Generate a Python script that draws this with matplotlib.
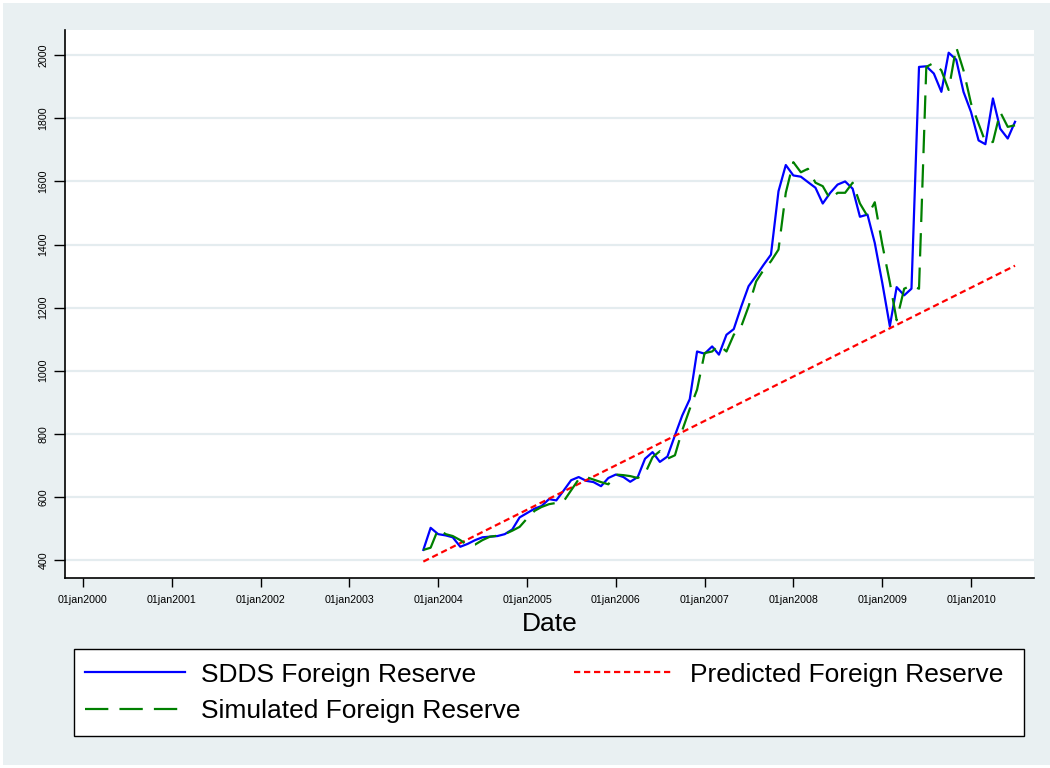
import numpy as np
import pandas as pd
import matplotlib
matplotlib.use("Agg")
import matplotlib.pyplot as plt
from matplotlib.patches import Rectangle

# monthly observations, Nov 2003 .. Jul 2010
months = pd.date_range("2003-11-01", "2010-07-01", freq="MS")

sdds = [432, 502,
        482, 478, 472, 442, 451, 463, 472, 474, 476, 482, 497, 535,
        549, 563, 571, 593, 589, 621, 653, 663, 651, 647, 634, 660,
        671, 663, 648, 663, 721, 742, 711, 728, 795, 858, 910, 1061,
        1054, 1077, 1051, 1114, 1132, 1204, 1268, 1301, 1336, 1368, 1569, 1652,
        1619, 1615, 1598, 1580, 1530, 1564, 1590, 1600, 1577, 1488, 1495, 1405,
        1278, 1141, 1265, 1239, 1260, 1963, 1965, 1942, 1884, 2008, 1986, 1884,
        1820, 1730, 1718, 1863, 1767, 1736, 1789]

simulated = [432, 439,
             498, 482, 476, 463, 447, 449, 463, 474, 477, 482, 493, 505,
             532, 556, 568, 577, 581, 587, 621, 656, 663, 655, 647, 640,
             671, 669, 666, 660, 674, 726, 745, 721, 732, 811, 879, 940,
             1056, 1061, 1082, 1061, 1114, 1141, 1204, 1283, 1320, 1347, 1384, 1564,
             1661, 1629, 1640, 1596, 1585, 1543, 1564, 1564, 1596, 1530, 1490, 1534,
             1400, 1280, 1160, 1260, 1270, 1260, 1963, 1976, 1952, 1890, 2026, 1952,
             1847, 1783, 1725, 1725, 1820, 1773, 1778]

# predicted trend line (straight), read at its two ends
pred_dates = pd.to_datetime(["2003-11-01", "2010-07-01"])
predicted = [395, 1333]

year_ticks = pd.to_datetime(["%d-01-01" % y for y in range(2000, 2011)])
year_labels = ["01jan2000", "01jan2001", "01jan2002", "01jan2003", "01jan2004",
               "01jan2005", "01jan2006", "01jan2007", "01jan2008", "01jan2009",
               "01jan2010"]
y_ticks = [400, 600, 800, 1000, 1200, 1400, 1600, 1800, 2000]

plt.rcParams["font.family"] = ["Liberation Sans", "DejaVu Sans"]

W, H = 1050, 768
bg = "#E9F0F2"

fig = plt.figure(figsize=(W / 100, H / 100), dpi=100)
fig.patch.set_facecolor("white")
fig.add_artist(Rectangle((3 / W, 3 / H), 1 - 3 / W, 1 - 6 / H,
                         transform=fig.transFigure, facecolor=bg,
                         edgecolor="none", zorder=-10))

ax = fig.add_axes([65 / W, 1 - 578 / H, (1034 - 65) / W, (578 - 30) / H])
ax.set_facecolor("white")

l1, = ax.plot(months, sdds, color="blue", lw=1.6,
              label="SDDS Foreign Reserve")
l2, = ax.plot(pred_dates, predicted, color="red", lw=1.6, dashes=(2.8, 1.7),
              label="Predicted Foreign Reserve")
l3, = ax.plot(months, simulated, color="#008000", lw=1.6, dashes=(10.5, 5),
              label="Simulated Foreign Reserve")

ax.set_xlim(pd.Timestamp("1999-10-19"), pd.Timestamp("2010-09-17"))
ax.set_ylim(343, 2080)

ax.set_xticks(year_ticks)
ax.set_xticklabels(year_labels, fontsize=7.7)
ax.set_yticks(y_ticks)
ax.set_yticklabels([str(v) for v in y_ticks], fontsize=7.7,
                   rotation=90, va="center")
ax.tick_params(axis="y", direction="out", length=8, width=1, pad=4)
ax.tick_params(axis="x", direction="out", length=6.5, width=1, pad=6)

for s in ["top", "right"]:
    ax.spines[s].set_visible(False)
for s in ["left", "bottom"]:
    ax.spines[s].set_linewidth(1.2)

ax.yaxis.grid(True, color="#E4ECEF", lw=1.6)
ax.set_axisbelow(True)

ax.set_xlabel("Date", fontsize=19, labelpad=5)

# legend frame drawn separately, entries laid out inside it
fig.add_artist(Rectangle((74 / W, 1 - 736 / H), 950 / W, 87 / H,
                         transform=fig.transFigure, facecolor="white",
                         edgecolor="black", lw=1.0, zorder=1))
leg = fig.legend([l1, l3, l2],
                 [l1.get_label(), l3.get_label(), l2.get_label()],
                 loc="upper left",
                 bbox_to_anchor=(74 / W, 1 - 652 / H, (1014 - 74) / W, 0),
                 bbox_transform=fig.transFigure, mode="expand", ncol=2,
                 fontsize=19, handlelength=3.8, handletextpad=0.6,
                 labelspacing=0.49, borderpad=0.4, borderaxespad=0,
                 frameon=False)
leg.set_zorder(5)

fig.savefig("out.png", dpi=100, facecolor=fig.get_facecolor())
